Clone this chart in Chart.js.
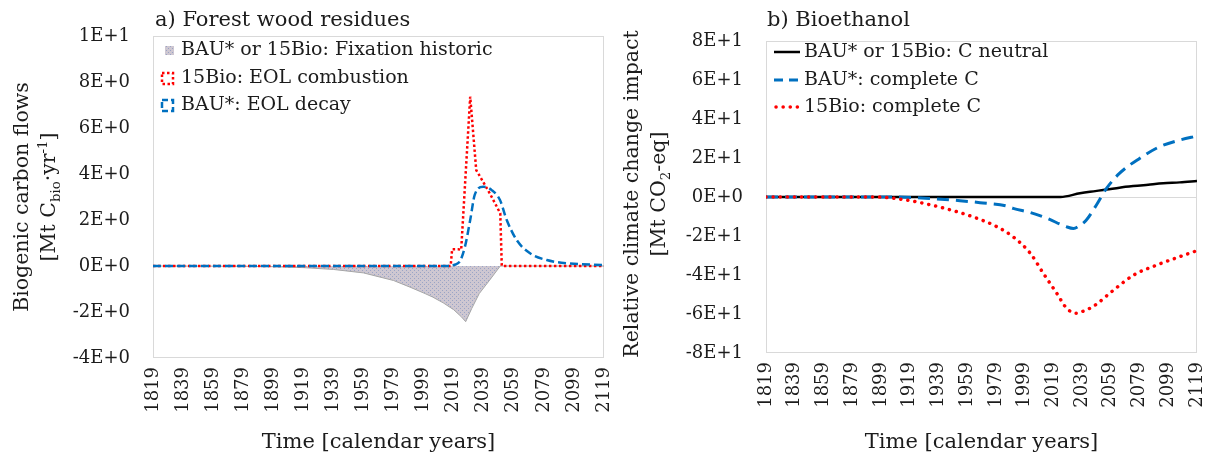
<!DOCTYPE html>
<html>
<head>
<meta charset="utf-8">
<script src="https://cdn.jsdelivr.net/npm/chart.js@4/dist/chart.umd.min.js"></script>
<style>
html,body{margin:0;padding:0;background:#fff;}
#wrap{position:relative;width:1212px;height:457px;overflow:hidden;background:#fff}
.box{position:absolute;top:0;height:457px}
#boxA{left:0;width:612px}
#boxB{left:612px;width:600px}
</style>
</head>
<body>
<div id="wrap">
  <div class="box" id="boxA"><canvas id="chartA" width="612" height="457"></canvas></div>
  <div class="box" id="boxB"><canvas id="chartB" width="600" height="457"></canvas></div>
</div>
<script>
/* two panels: a) forest wood residues flows, b) bioethanol climate impact */
const FONT = "DejaVu Serif", TXT = "#1c1c1c";

// shared x ticks (calendar years)
const yearTicks = [1819,1839,1859,1879,1899,1919,1939,1959,1979,1999,2019,2039,2059,2079,2099,2119];

// panel a) – biogenic carbon flows [Mt C/yr]
const leftYTicks  = [-4,-2,0,2,4,6,8,10];
const leftYLabels = ["-4E+0","-2E+0","0E+0","2E+0","4E+0","6E+0","8E+0","1E+1"];
const fixYears  = [1819,1879,1899,1919,1939,1959,1979,1990,2000,2005,2012,2019,2024,2027,2031,2036,2043,2050,2119];
const fixVals   = [0,-0.01,-0.03,-0.07,-0.15,-0.3,-0.63,-0.92,-1.2,-1.35,-1.6,-1.9,-2.2,-2.42,-1.85,-1.2,-0.61,0,0];
const combYears = [1819,2017,2018,2022,2024,2030,2034,2036,2043,2050,2051,2119];
const combVals  = [0,0,0.73,0.73,0.7,7.36,4.17,3.95,3.16,2.29,0,0];
const decayYears= [1819,2018,2019,2023,2026.5,2030,2033,2038.7,2044.3,2049.8,2054.3,2060.9,2069.8,2080.9,2094.2,2119];
const decayVals = [0,0,0.04,0.19,0.84,2.0,3.09,3.45,3.3,2.87,2.0,1.13,0.55,0.26,0.12,0.04];

// panel b) – relative climate change impact [Mt CO2-eq]
const rightYTicks  = [-80,-60,-40,-20,0,20,40,60,80];
const rightYLabels = ["-8E+1","-6E+1","-4E+1","-2E+1","0E+0","2E+1","4E+1","6E+1","8E+1"];
const neutYears = [1819,2024,2037.5,2044.5,2056,2065,2074.6,2085,2095.5,2107,2119];
const neutVals  = [0,0,1.9,2.7,3.8,4.8,5.6,6.3,7.0,7.5,8.2];
const bauYears  = [1819,1905,1930,1954,1968,1986.5,1991,2003,2014.4,2028,2033,2037,2042,2049,2056,2065,2079,2093,2107,2119];
const bauVals   = [0,0,-0.6,-1.9,-2.9,-4.6,-5.8,-8,-10.9,-15.2,-16.1,-14.8,-11.8,-4.1,4.4,12.1,19.8,25.8,29.2,31.3];
const bioYears  = [1819,1895,1916,1939,1964,1979.6,1991,2003,2012,2021.4,2028.3,2035,2040,2047,2061,2075,2091,2107,2119];
const bioVals   = [0,0,-1.5,-5,-10.4,-15.2,-20.4,-28.9,-39.1,-49.4,-57.1,-59.6,-58.5,-56,-47.7,-40,-34.9,-30.6,-27.5];

const pts = (xs, ys) => xs.map((x,i)=>({x, y:ys[i]}));
const font = (s, w) => (w||"normal")+" "+s+"px '"+FONT+"'";

function makePattern(){
  const c=document.createElement("canvas"); c.width=4; c.height=4;
  const g=c.getContext("2d");
  g.fillStyle="#cec7d1"; g.fillRect(0,0,4,4);
  g.fillStyle="#9aa4c6"; g.fillRect(0,0,1,1); g.fillRect(2,2,1,1);
  return g.createPattern(c,"repeat");
}
const fixPattern = makePattern();

// rotated axis title with sub/superscripts
function drawRich(ctx, segs, cx, cy, size){
  ctx.save(); ctx.translate(cx,cy); ctx.rotate(-Math.PI/2);
  ctx.textBaseline="middle"; ctx.textAlign="left"; ctx.fillStyle=TXT;
  let w=0;
  segs.forEach(s=>{ ctx.font=font((s.sub||s.sup)?size*0.65:size); w+=ctx.measureText(s.t).width; });
  let x=-w/2;
  segs.forEach(s=>{
    ctx.font=font((s.sub||s.sup)?size*0.65:size);
    const dy = s.sub ? size*0.3 : (s.sup ? -size*0.32 : 0);
    ctx.fillText(s.t,x,dy); x+=ctx.measureText(s.t).width;
  });
  ctx.restore();
}

const framePlugin = {
  id:"frame",
  beforeDatasetsDraw(chart){
    const a=chart.chartArea, ctx=chart.ctx;
    ctx.save(); ctx.strokeStyle="#d9d9d9"; ctx.lineWidth=1;
    ctx.strokeRect(a.left+0.5,a.top+0.5,a.right-a.left-1,a.bottom-a.top-1);
    ctx.restore();
  }
};

function textPlugin(cfg){
  return {
    id:"texts",
    afterDraw(chart){
      const ctx=chart.ctx, a=chart.chartArea;
      ctx.save();
      ctx.fillStyle=TXT; ctx.textBaseline="middle"; ctx.textAlign="left";
      ctx.font=font(21); ctx.fillText(cfg.title, cfg.titleX, 21);
      cfg.yTitle.forEach(l=>drawRich(ctx,l.segs,l.cx,cfg.yTitleCy,20.5));
      ctx.textAlign="center"; ctx.font=font(21);
      ctx.fillText(cfg.xTitle,(a.left+a.right)/2,443);
      // legend
      cfg.legend.forEach((it,i)=>{
        const y=cfg.legendY[i];
        ctx.save(); it.marker(ctx,y); ctx.restore();
        ctx.fillStyle=TXT; ctx.textAlign="left"; ctx.textBaseline="middle"; ctx.font=font(19);
        ctx.fillText(it.text,cfg.legendTextX,y);
      });
      ctx.restore();
    }
  };
}

function baseScales(yTicks, yLabels, yMin, yMax, yWidth, xHeight, zeroLine){
  return {
    x:{type:"linear",min:1819,max:2119,
       afterBuildTicks:s=>{s.ticks=yearTicks.map(v=>({value:v}));},
       afterFit:s=>{s.height=xHeight; s.paddingLeft=0; s.paddingRight=0;},
       grid:{display:false,drawTicks:false}, border:{display:false},
       ticks:{autoSkip:false,minRotation:90,maxRotation:90,padding:9,color:TXT,font:{family:FONT,size:18},
              callback:v=>String(v)}},
    y:{min:yMin,max:yMax,
       afterBuildTicks:s=>{s.ticks=yTicks.map(v=>({value:v}));},
       afterFit:s=>{s.width=yWidth; s.paddingTop=0; s.paddingBottom=0;},
       grid:{display:zeroLine,drawTicks:false,color:c=>c.tick&&c.tick.value===0?"#d9d9d9":"rgba(0,0,0,0)"},
       border:{display:false},
       ticks:{padding:23,color:TXT,font:{family:FONT,size:18},
              callback:v=>yLabels[yTicks.indexOf(v)]}}
  };
}

// ---- panel a
new Chart(document.getElementById("chartA"),{
  type:"line",
  data:{datasets:[
    {label:"BAU*: EOL decay",data:pts(decayYears,decayVals),borderColor:"#0070c0",borderWidth:2.5,
     borderDash:[8,4],pointRadius:0,cubicInterpolationMode:"monotone",fill:false,order:0},
    {label:"15Bio: EOL combustion",data:pts(combYears,combVals),borderColor:"#ff0000",borderWidth:2.5,
     borderDash:[2.5,2.5],pointRadius:0,tension:0,fill:false,order:1},
    {label:"BAU* or 15Bio: Fixation historic",data:pts(fixYears,fixVals),borderColor:"#a6a6a6",borderWidth:1,
     backgroundColor:fixPattern,fill:"origin",pointRadius:0,tension:0,order:2}
  ]},
  options:{
    responsive:false,animation:false,
    layout:{padding:{left:0,right:8,top:36,bottom:0}},
    plugins:{legend:{display:false},tooltip:{enabled:false}},
    scales:baseScales(leftYTicks,leftYLabels,-4,10,153,99,false)
  },
  plugins:[framePlugin,textPlugin({
    title:"a) Forest wood residues",titleX:155,
    yTitle:[
      {cx:23,segs:[{t:"Biogenic carbon flows"}]},
      {cx:50,segs:[{t:"[Mt C"},{t:"bio",sub:true},{t:"·yr"},{t:"-1",sup:true},{t:"]"}]}
    ],
    yTitleCy:197,
    xTitle:"Time [calendar years]",
    legendY:[50,78,105],legendTextX:181,
    legend:[
      {text:"BAU* or 15Bio: Fixation historic",marker:(ctx,y)=>{ctx.fillStyle=fixPattern;ctx.fillRect(165,y-4,9,9);}},
      {text:"15Bio: EOL combustion",marker:(ctx,y)=>{ctx.strokeStyle="#ff0000";ctx.lineWidth=2.5;ctx.setLineDash([2.5,2.5]);ctx.strokeRect(162,y-5,11,11);}},
      {text:"BAU*: EOL decay",marker:(ctx,y)=>{ctx.strokeStyle="#0070c0";ctx.lineWidth=2.5;ctx.setLineDash([6,3]);ctx.strokeRect(162,y-5,11,11);}}
    ]
  })]
});

// ---- panel b
new Chart(document.getElementById("chartB"),{
  type:"line",
  data:{datasets:[
    {label:"BAU* or 15Bio: C neutral",data:pts(neutYears,neutVals),borderColor:"#000000",borderWidth:2.5,
     pointRadius:0,cubicInterpolationMode:"monotone",fill:false,order:2},
    {label:"BAU*: complete C",data:pts(bauYears,bauVals),borderColor:"#0070c0",borderWidth:3,
     borderDash:[12,7],pointRadius:0,cubicInterpolationMode:"monotone",fill:false,order:1},
    {label:"15Bio: complete C",data:pts(bioYears,bioVals),borderColor:"#ff0000",borderWidth:3.5,
     borderDash:[0.1,7],borderCapStyle:"round",pointRadius:0,cubicInterpolationMode:"monotone",fill:false,order:0}
  ]},
  options:{
    responsive:false,animation:false,
    layout:{padding:{left:0,right:15,top:41,bottom:0}},
    plugins:{legend:{display:false},tooltip:{enabled:false}},
    scales:baseScales(rightYTicks,rightYLabels,-80,80,154,104,true)
  },
  plugins:[framePlugin,textPlugin({
    title:"b) Bioethanol",titleX:155,
    yTitle:[
      {cx:21,segs:[{t:"Relative climate change impact"}]},
      {cx:48,segs:[{t:"[Mt CO"},{t:"2",sub:true},{t:"-eq]"}]}
    ],
    yTitleCy:194,
    xTitle:"Time [calendar years]",
    legendY:[52,80,107],legendTextX:192,
    legend:[
      {text:"BAU* or 15Bio: C neutral",marker:(ctx,y)=>{ctx.strokeStyle="#000";ctx.lineWidth=2.5;ctx.beginPath();ctx.moveTo(162,y);ctx.lineTo(188,y);ctx.stroke();}},
      {text:"BAU*: complete C",marker:(ctx,y)=>{ctx.strokeStyle="#0070c0";ctx.lineWidth=3;ctx.setLineDash([9,6]);ctx.beginPath();ctx.moveTo(162,y);ctx.lineTo(190,y);ctx.stroke();}},
      {text:"15Bio: complete C",marker:(ctx,y)=>{ctx.strokeStyle="#ff0000";ctx.lineWidth=3.5;ctx.lineCap="round";ctx.setLineDash([0.1,7]);ctx.beginPath();ctx.moveTo(164,y);ctx.lineTo(188,y);ctx.stroke();}}
    ]
  })]
});
</script>
</body>
</html>
